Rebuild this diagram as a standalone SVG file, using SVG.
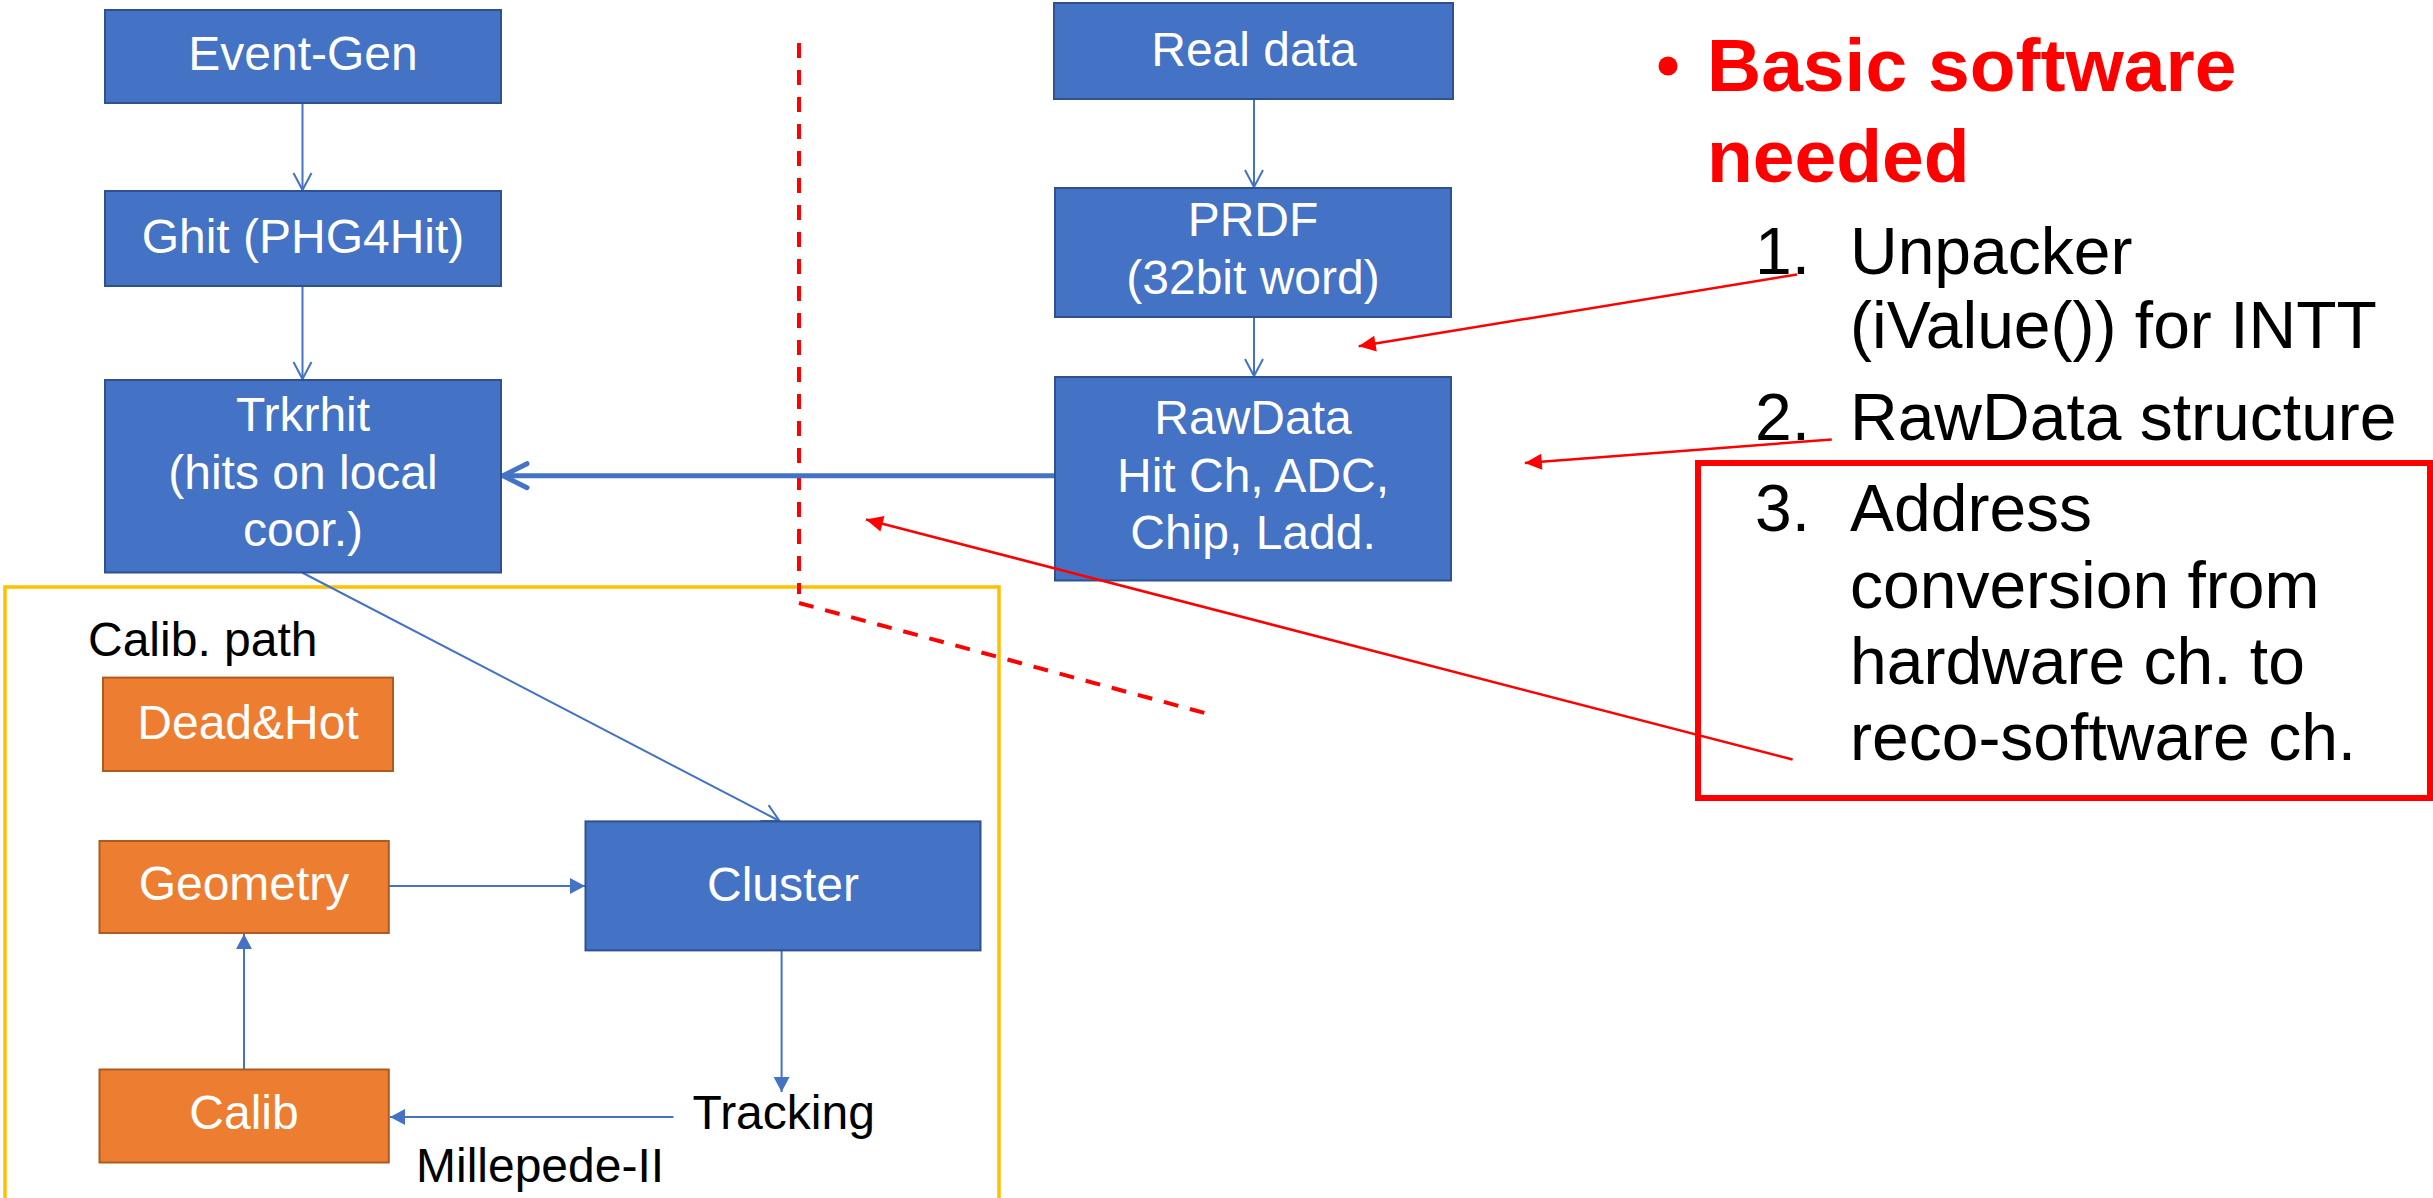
<svg xmlns="http://www.w3.org/2000/svg" width="2433" height="1198" viewBox="0 0 2433 1198">
<style>
  .bn { fill: #4472C4; stroke: #2F528F; stroke-width: 2; }
  .on { fill: #ED7D31; stroke: #AE5A21; stroke-width: 2; }
  .wt { font-family: "Liberation Sans", Arial, sans-serif; font-size: 48px; fill: #FFFFFF; text-anchor: middle; }
  .bt { font-family: "Liberation Sans", Arial, sans-serif; font-size: 48px; fill: #000000; }
  .lt { font-family: "Liberation Sans", Arial, sans-serif; font-size: 66px; fill: #000000; }
  .tt { font-family: "Liberation Sans", Arial, sans-serif; font-size: 75px; font-weight: bold; fill: #FF0000; }
  .bl { stroke: #4472C4; stroke-width: 2; fill: none; }
  .rl { stroke: #FF0000; stroke-width: 2.5; fill: none; }
</style>
<defs>
  <marker id="openArr" markerUnits="userSpaceOnUse" markerWidth="40" markerHeight="40" viewBox="-20 -20 40 40" refX="0" refY="0" orient="auto" overflow="visible">
    <path d="M-17,-9 L0,0 L-17,9" fill="none" stroke="#4472C4" stroke-width="2"/>
  </marker>
  <marker id="openArrThick" markerUnits="userSpaceOnUse" markerWidth="60" markerHeight="60" viewBox="-30 -30 60 60" refX="0" refY="0" orient="auto" overflow="visible">
    <path d="M-24,-12 L0,0 L-24,12" fill="none" stroke="#4472C4" stroke-width="5" stroke-linecap="round" stroke-linejoin="round"/>
  </marker>
  <marker id="fillArr" markerUnits="userSpaceOnUse" markerWidth="40" markerHeight="40" viewBox="-20 -20 40 40" refX="0" refY="0" orient="auto" overflow="visible">
    <path d="M-15,-8 L0,0 L-15,8 Z" fill="#4472C4"/>
  </marker>
  <marker id="redArr" markerUnits="userSpaceOnUse" markerWidth="40" markerHeight="40" viewBox="-20 -20 40 40" refX="0" refY="0" orient="auto" overflow="visible">
    <path d="M-17,-8 L0,0 L-17,8 Z" fill="#FF0000"/>
  </marker>
</defs>
<rect width="2433" height="1198" fill="#FFFFFF"/>

<!-- calibration region -->
<g id="calib-region">
  <rect x="5" y="587" width="994" height="700" fill="none" stroke="#FFC000" stroke-width="3.5"/>
  <text class="bt" x="88" y="656">Calib. path</text>
</g>

<!-- separator dashed line -->
<g id="separator" stroke="#FF0000" stroke-width="4" fill="none" stroke-dasharray="15 12">
  <line x1="799" y1="43" x2="799" y2="594"/>
  <line x1="799" y1="603" x2="1212" y2="715"/>
</g>

<g id="connectors">
  <line class="bl" x1="302.5" y1="103" x2="302.5" y2="190" marker-end="url(#openArr)"/>
  <line class="bl" x1="302.5" y1="287" x2="302.5" y2="379" marker-end="url(#openArr)"/>
  <line class="bl" x1="1254" y1="99" x2="1254" y2="187" marker-end="url(#openArr)"/>
  <line class="bl" x1="1254" y1="317" x2="1254" y2="376" marker-end="url(#openArr)"/>
  <line x1="1055" y1="475.7" x2="503" y2="475.7" stroke="#4472C4" stroke-width="5" marker-end="url(#openArrThick)"/>
  <line class="bl" x1="302" y1="572.5" x2="779.5" y2="821" marker-end="url(#openArr)"/>
  <line class="bl" x1="389" y1="886" x2="585" y2="886" marker-end="url(#fillArr)"/>
  <line class="bl" x1="244" y1="1069.5" x2="244" y2="934" marker-end="url(#fillArr)"/>
  <line class="bl" x1="781.6" y1="950.5" x2="781.6" y2="1092" marker-end="url(#fillArr)"/>
  <line class="bl" x1="673.5" y1="1117" x2="390" y2="1117" marker-end="url(#fillArr)"/>
</g>

<g id="node-eventgen">
  <rect class="bn" x="105" y="10" width="396" height="93"/>
  <text class="wt" x="303" y="70">Event-Gen</text>
</g>
<g id="node-ghit">
  <rect class="bn" x="105" y="191" width="396" height="95"/>
  <text class="wt" x="303" y="252.6">Ghit (PHG4Hit)</text>
</g>
<g id="node-trkrhit">
  <rect class="bn" x="105" y="380" width="396" height="192.5"/>
  <text class="wt" x="303" y="431.3">Trkrhit</text>
  <text class="wt" x="303" y="488.7">(hits on local</text>
  <text class="wt" x="303" y="546.1">coor.)</text>
</g>
<g id="node-realdata">
  <rect class="bn" x="1054" y="3" width="399" height="96"/>
  <text class="wt" x="1254" y="65.8">Real data</text>
</g>
<g id="node-prdf">
  <rect class="bn" x="1055" y="188" width="396" height="129"/>
  <text class="wt" x="1253" y="236">PRDF</text>
  <text class="wt" x="1253" y="294">(32bit word)</text>
</g>
<g id="node-rawdata">
  <rect class="bn" x="1055" y="377" width="396" height="203.5"/>
  <text class="wt" x="1253" y="434.4">RawData</text>
  <text class="wt" x="1253" y="491.8">Hit Ch, ADC,</text>
  <text class="wt" x="1253" y="549.2">Chip, Ladd.</text>
</g>
<g id="node-cluster">
  <rect class="bn" x="585.5" y="821.4" width="395" height="129"/>
  <text class="wt" x="783" y="900.6">Cluster</text>
</g>
<g id="node-deadhot">
  <rect class="on" x="103" y="677.6" width="290" height="93.4"/>
  <text class="wt" x="248" y="738.8">Dead&amp;Hot</text>
</g>
<g id="node-geometry">
  <rect class="on" x="99.5" y="841" width="289.3" height="92"/>
  <text class="wt" x="244" y="900.3">Geometry</text>
</g>
<g id="node-calib">
  <rect class="on" x="99.5" y="1069.5" width="289.3" height="93"/>
  <text class="wt" x="244" y="1128.8">Calib</text>
</g>
<g id="node-tracking">
  <text class="bt" x="692.6" y="1128.6">Tracking</text>
</g>
<g id="label-millepede">
  <text class="bt" x="416" y="1181.6">Millepede-II</text>
</g>

<!-- right-side text -->
<g id="notes">
  <circle cx="1668" cy="66" r="9.5" fill="#FF0000"/>
  <text class="tt" x="1707" y="91">Basic software</text>
  <text class="tt" x="1707" y="182">needed</text>
  <text class="lt" x="1755" y="273.5">1.</text>
  <text class="lt" x="1850" y="273.5">Unpacker</text>
  <text class="lt" x="1850" y="348">(iValue()) for INTT</text>
  <text class="lt" x="1755" y="439.5">2.</text>
  <text class="lt" x="1850" y="439.5">RawData structure</text>
  <text class="lt" x="1755" y="530.5">3.</text>
  <text class="lt" x="1850" y="530.5">Address</text>
  <text class="lt" x="1850" y="607.6">conversion from</text>
  <text class="lt" x="1850" y="683.8">hardware ch. to</text>
  <text class="lt" x="1850" y="759.5">reco-software ch.</text>
  <rect x="1698" y="463" width="732" height="335" fill="none" stroke="#FF0000" stroke-width="6"/>
</g>

<g id="red-pointers">
  <line class="rl" x1="1797" y1="274.4" x2="1358.7" y2="346.3" marker-end="url(#redArr)"/>
  <line class="rl" x1="1831.8" y1="439.5" x2="1524.8" y2="463" marker-end="url(#redArr)"/>
  <line class="rl" x1="1792.6" y1="759.5" x2="866" y2="519.5" marker-end="url(#redArr)"/>
</g>
</svg>
